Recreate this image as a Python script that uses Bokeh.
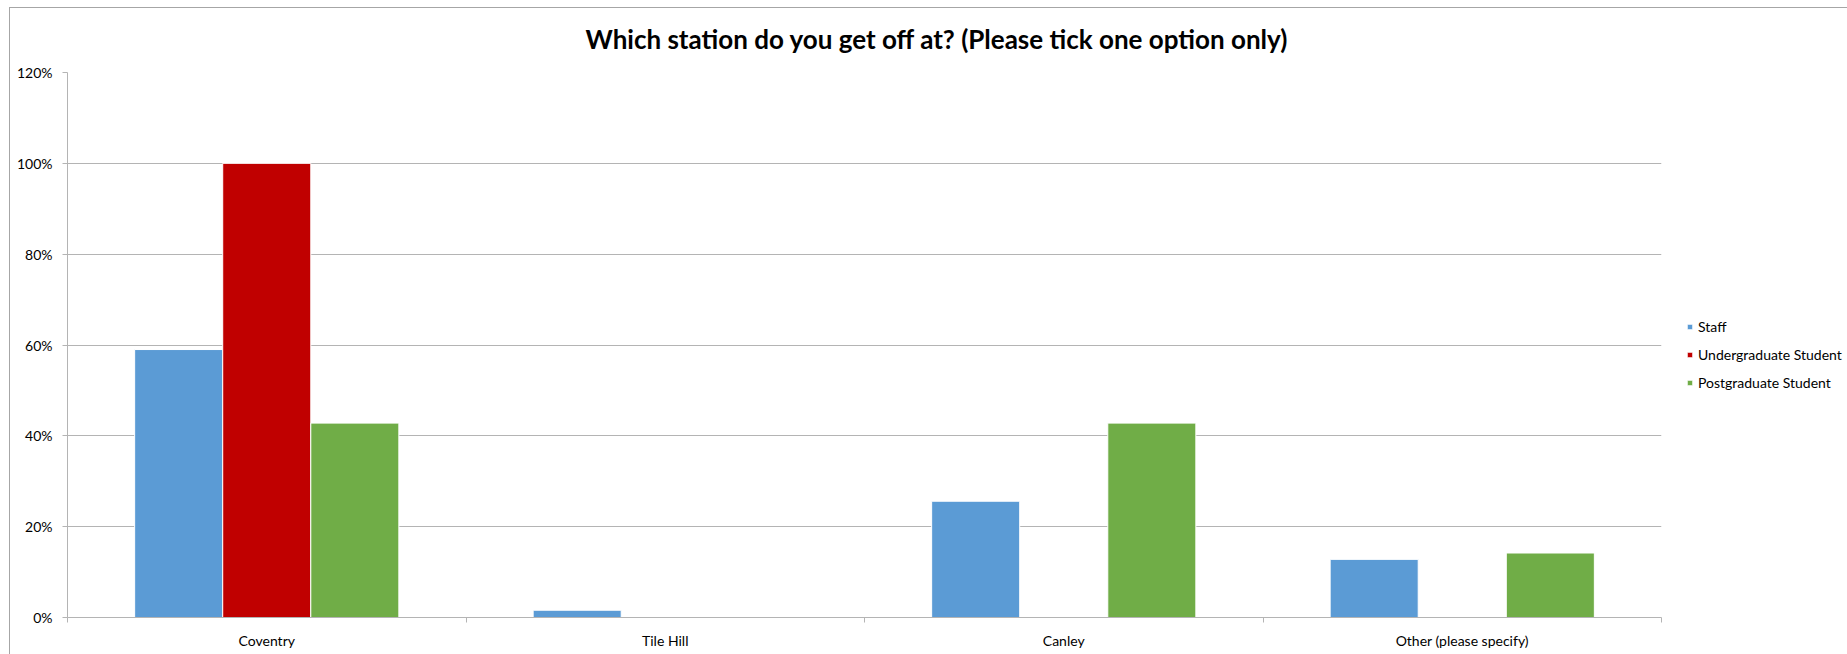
from bokeh.plotting import figure
from bokeh.models import (ColumnDataSource, FixedTicker, NumeralTickFormatter,
                          Legend, LegendItem, Title)
from bokeh.transform import dodge
from bokeh.embed import file_html
from bokeh.resources import INLINE

# Survey answers: share of each respondent group by station
stations = ["Coventry", "Tile Hill", "Canley", "Other (please specify)"]
staff = [0.59, 0.016, 0.256, 0.128]
undergraduate = [1.0, 0.0, 0.0, 0.0]
postgraduate = [0.428, 0.0, 0.428, 0.142]
series_names = ["Staff", "Undergraduate Student", "Postgraduate Student"]
y_ticks = [0, 0.2, 0.4, 0.6, 0.8, 1.0, 1.2]

colors = ["#5B9BD5", "#C00000", "#70AD47"]
FONT = "Lato"
GRID = "#b4b4b4"
EDGE = "#a6a6a6"

# stations sit at the centre of unit-wide slots along a numeric axis
centers = [i + 0.5 for i in range(len(stations))]
source = ColumnDataSource(dict(x=centers, staff=staff,
                               undergraduate=undergraduate,
                               postgraduate=postgraduate))

p = figure(frame_width=1594, frame_height=545,
           x_range=(0, len(stations)), y_range=(0, 1.2),
           output_backend="svg", toolbar_location=None,
           min_border_left=67, min_border_right=186,
           min_border_top=72, min_border_bottom=37,
           background_fill_color="white", border_fill_alpha=0)
p.outline_line_color = None
# thin chart-area edge along the top and left, painted behind the canvas
p.styles = {"background": (f"linear-gradient({EDGE},{EDGE}) 9px 7px / 1px 100% no-repeat, "
                           f"linear-gradient({EDGE},{EDGE}) 9px 7px / 100% 1px no-repeat, "
                           "white")}

title = Title(text="Which station do you get off at? (Please tick one option only)",
              align="left", text_font=FONT, text_font_size="26px",
              text_font_style="bold", text_color="#000000", standoff=36, offset=518)
p.add_layout(title, "above")

bar_w = 0.221
offsets = [-bar_w, 0.0, bar_w]
fields = ["staff", "undergraduate", "postgraduate"]
renderers = []
for f, off, c in zip(fields, offsets, colors):
    r = p.vbar(x=dodge("x", off), top=f, width=bar_w, source=source,
               fill_color=c, line_color="white", line_width=1)
    renderers.append(r)

# y axis
p.yaxis.ticker = FixedTicker(ticks=y_ticks)
p.yaxis.formatter = NumeralTickFormatter(format="0%")
p.yaxis.axis_line_color = GRID
p.yaxis.major_tick_line_color = GRID
p.yaxis.major_tick_in = 0
p.yaxis.major_tick_out = 5
p.yaxis.minor_tick_line_color = None
p.yaxis.major_label_standoff = 10
p.yaxis.major_label_text_font = FONT
p.yaxis.major_label_text_font_size = "14px"
p.yaxis.major_label_text_color = "#000000"

# x axis: labels at slot centres, small ticks at slot boundaries
p.xaxis.ticker = FixedTicker(ticks=centers,
                             minor_ticks=list(range(len(stations) + 1)))
p.xaxis.major_label_overrides = {c: s for c, s in zip(centers, stations)}
p.xaxis.axis_line_color = GRID
p.xaxis.major_tick_line_color = None
p.xaxis.minor_tick_line_color = GRID
p.xaxis.minor_tick_in = 0
p.xaxis.minor_tick_out = 5
p.xaxis.major_label_standoff = 8
p.xaxis.major_label_text_font = FONT
p.xaxis.major_label_text_font_size = "14px"
p.xaxis.major_label_text_color = "#000000"

p.xgrid.grid_line_color = None
p.ygrid.grid_line_color = GRID
p.ygrid.ticker = FixedTicker(ticks=y_ticks)

legend = Legend(items=[LegendItem(label=n, renderers=[r])
                       for n, r in zip(series_names, renderers)],
                location=(25, 224), orientation="vertical",
                glyph_width=7, glyph_height=7, label_standoff=5,
                label_height=21, spacing=7, padding=0, margin=0,
                border_line_color=None, background_fill_alpha=0,
                label_text_font=FONT, label_text_font_size="14px",
                label_text_color="#000000")
p.add_layout(legend, "right")

open("out.html", "w").write(file_html(p, INLINE))
